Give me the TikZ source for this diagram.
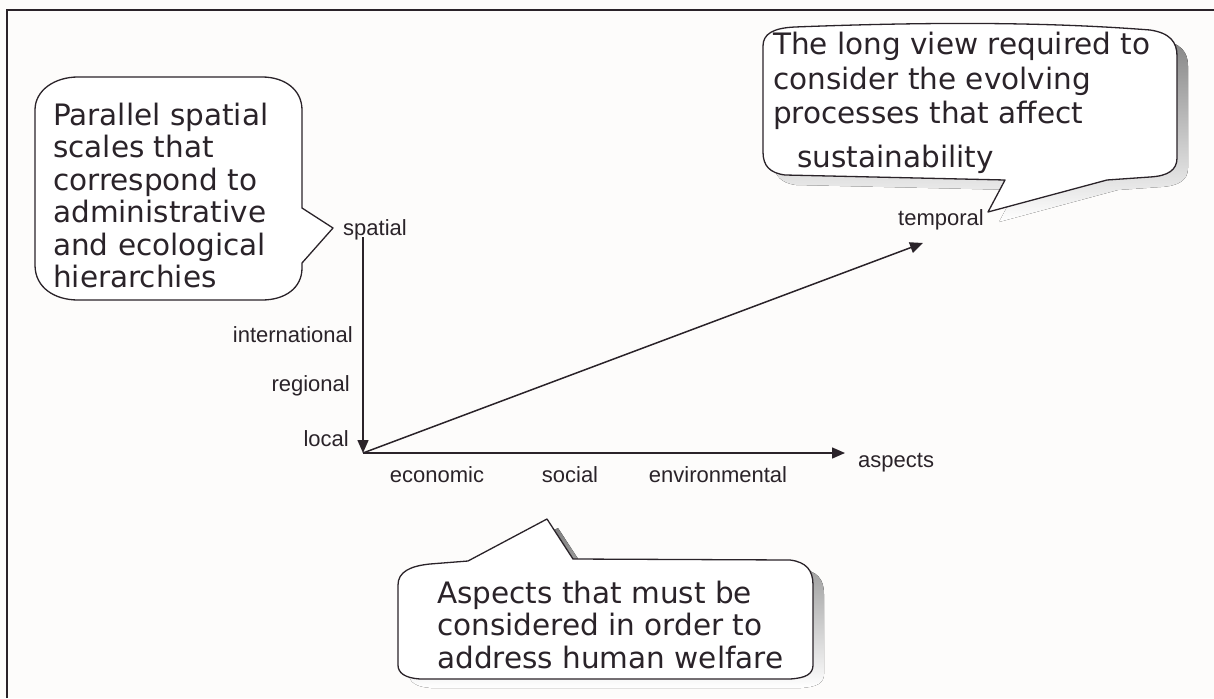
\documentclass[tikz,border=0pt]{standalone}
\usepackage{fontspec}
\setmainfont{DejaVu Sans}
\newfontfamily\labelfont{Liberation Sans}
\usetikzlibrary{arrows.meta}
\definecolor{ink}{HTML}{2A2329}
\definecolor{shade}{HTML}{7D736E}
\definecolor{paper}{HTML}{FDFCFB}

\begin{document}
\begin{tikzpicture}[x=1pt,y=-1pt,
  outline/.style={draw=ink,line width=1.3pt,fill=white,line join=round},
  calltext/.style={anchor=north west,inner sep=0pt,align=left,text=ink,
    font=\fontsize{29.5}{32.5}\selectfont},
  axislabel/.style={inner sep=0pt,text=ink,font=\labelfont\fontsize{22}{24}\selectfont},
  axis/.style={draw=ink,line width=1.5pt,-{Triangle[length=13pt,width=11pt]}},
  leftbubble/.style={insert path={
    (35,110) .. controls (35,90) and (55,77) .. (78,77) -- (262,77)
    .. controls (285,77) and (302,90) .. (302,110) -- (302,208) -- (333,228)
    -- (302,263) -- (302,268) .. controls (302,288) and (285,300) .. (262,300)
    -- (78,300) .. controls (55,300) and (35,288) .. (35,265) -- cycle}},
  rightbubble/.style={insert path={
    (763,46) .. controls (763,34) and (773,28) .. (795,27)
    .. controls (950,21) and (1060,23) .. (1150,30)
    .. controls (1170,33) and (1177,42) .. (1177,56) -- (1177,158)
    .. controls (1177,170) and (1168,176) .. (1150,177) -- (1107,180)
    -- (988,212) -- (1005,180) -- (785,175)
    .. controls (770,173) and (763,166) .. (763,152) -- cycle}},
  bottombubble/.style={insert path={
    (398,585) .. controls (398,572) and (410,566) .. (430,564) -- (468,561)
    -- (547,519) -- (573,559) -- (790,560)
    .. controls (806,562) and (813,570) .. (813,585) -- (813,665)
    .. controls (813,674) and (806,678) .. (790,679) -- (420,679)
    .. controls (405,678) and (398,673) .. (398,665) -- cycle}}]

% page and frame
\fill[paper] (0,0) rectangle (1214,698);
\useasboundingbox (0,0) rectangle (1214,698);
\draw[ink,line width=2pt] (7,698) -- (7,10) -- (1214,10);

% callout bubbles (two of them carry a drop shadow)
\fill[shade,shift={(11,10)},rightbubble];
\fill[shade,shift={(11,9)},bottombubble];
\path[outline,leftbubble];
\path[outline,rightbubble];
\path[outline,bottombubble];

% callout texts
\node[calltext] (spatialnote) at (53,102.6)
  {Parallel spatial\\scales that\\correspond to\\administrative\\and ecological\\hierarchies};
\node[calltext,font=\fontsize{29.5}{34.5}\selectfont] (temporalnote) at (773,32)
  {The long view required to\\consider the evolving\\processes that affect\\[9pt]\hspace*{24pt}sustainability};
\node[calltext] (aspectnote) at (437,580.6)
  {Aspects that must be\\considered in order to\\address human welfare};

% axes
\coordinate (O) at (363,453);
\coordinate (spatialtop) at (363,237);
\coordinate (aspectend) at (845,453);
\coordinate (temporalend) at (923,243);
\draw[axis] (spatialtop) -- (O);
\draw[axis] (O) -- (aspectend);
\draw[axis] (O) -- (temporalend);

% axis labels
\node[axislabel,anchor=base west] (spatial) at (343,235) {spatial};
\node[axislabel,anchor=base west] (temporal) at (898,225) {temporal};
\node[axislabel,anchor=base west] (aspects) at (858,467) {aspects};
\node[axislabel,anchor=base east] (intl) at (353,342) {international};
\node[axislabel,anchor=base east] (regional) at (350,391) {regional};
\node[axislabel,anchor=base east] (local) at (349,446) {local};
\node[axislabel,anchor=base] (economic) at (437,482) {economic};
\node[axislabel,anchor=base] (social) at (570,482) {social};
\node[axislabel,anchor=base] (environmental) at (718,482) {environmental};
\end{tikzpicture}
\end{document}
